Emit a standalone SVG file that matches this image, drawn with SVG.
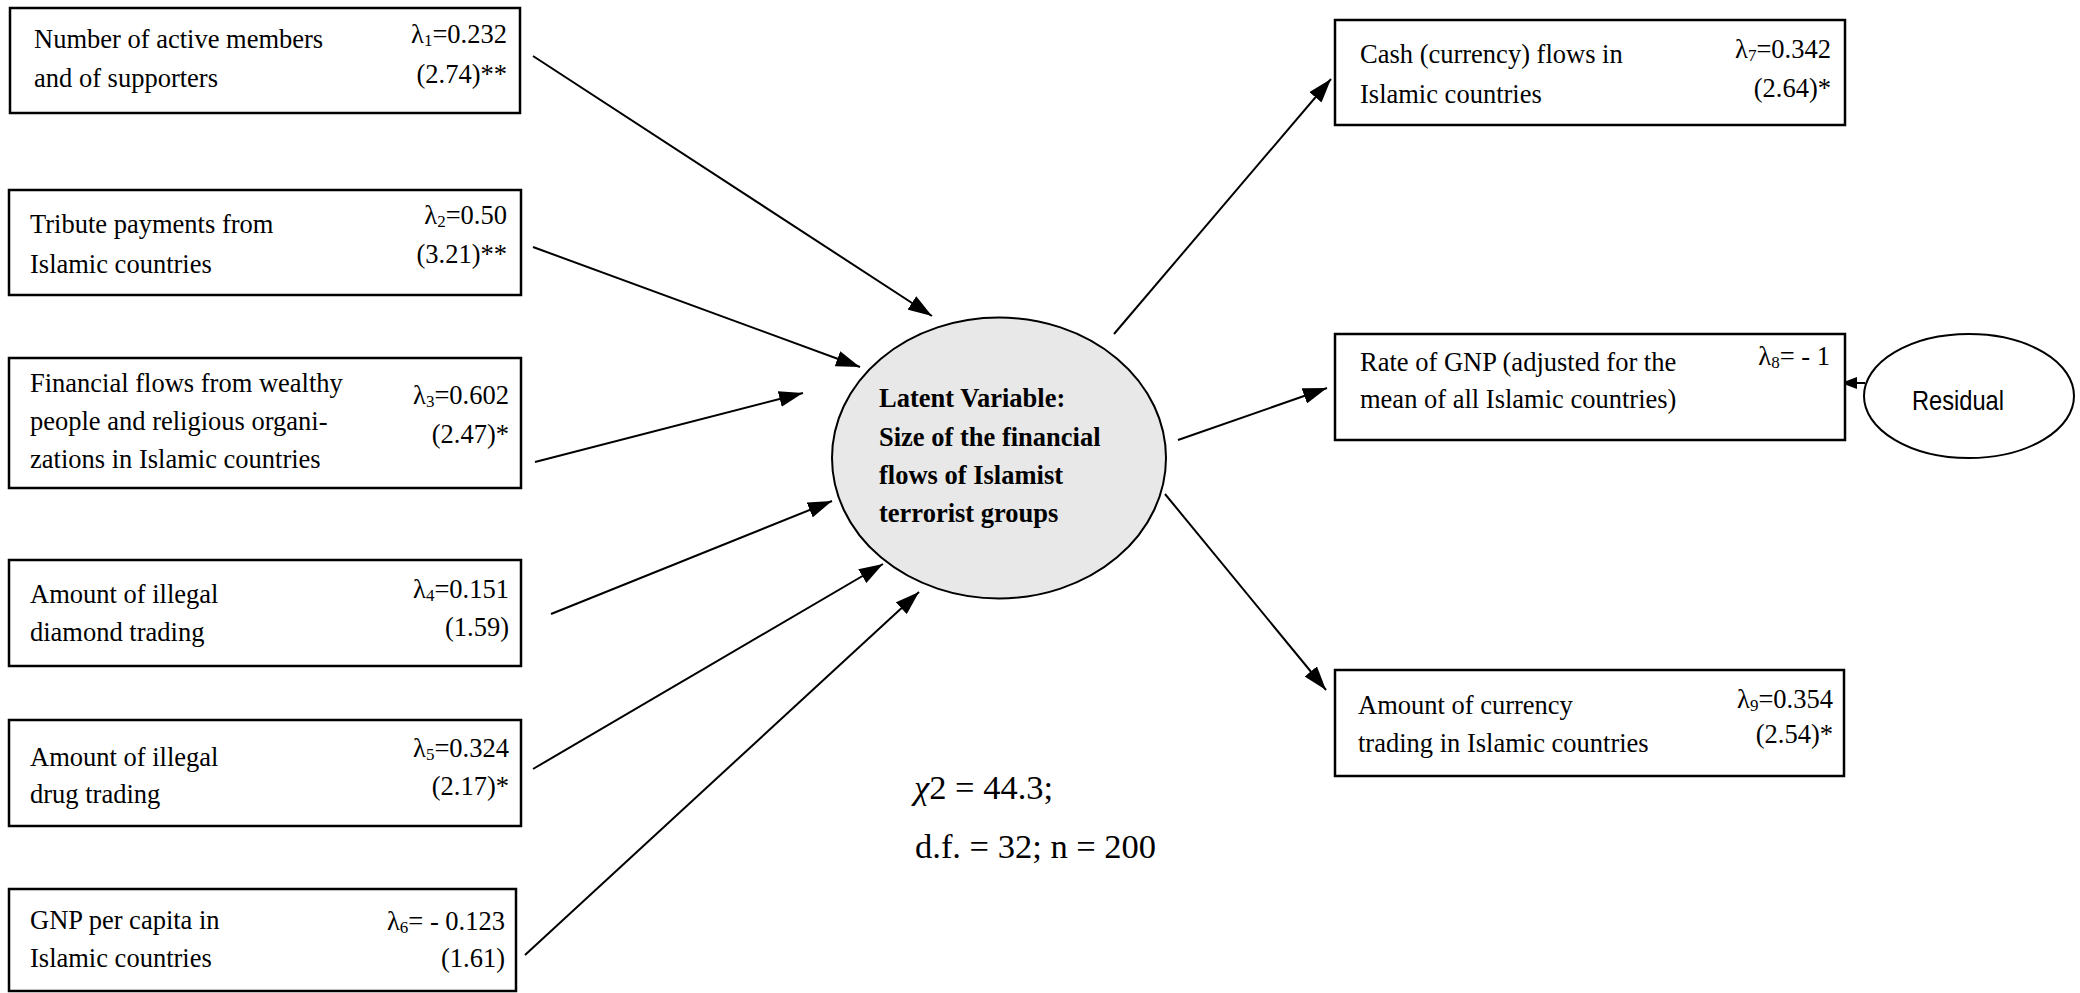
<svg xmlns="http://www.w3.org/2000/svg" width="2080" height="993" viewBox="0 0 2080 993">
<defs>
<style>
.box{fill:#ffffff;stroke:#000000;stroke-width:2.5}
.t{font-family:"Liberation Serif","Times New Roman",serif;font-size:26.5px;fill:#000000}
.r{text-anchor:end}
.b{font-weight:bold}
.sub{font-size:17px}
.conn{stroke:#000000;stroke-width:2;fill:none;marker-end:url(#ah)}
.stat{font-family:"Liberation Serif","Times New Roman",serif;font-size:34.5px;fill:#000000}
</style>
<marker id="ah" markerUnits="userSpaceOnUse" viewBox="0 0 24 16" refX="24" refY="8" markerWidth="24" markerHeight="16" orient="auto">
<path d="M0,0 L24,8 L0,16 z" fill="#000000"/>
</marker>
<marker id="ahs" markerUnits="userSpaceOnUse" viewBox="0 0 16 12" refX="16" refY="6" markerWidth="16" markerHeight="12" orient="auto">
<path d="M0,0 L16,6 L0,12 z" fill="#000000"/>
</marker>
</defs>
<rect width="2080" height="993" fill="#ffffff"/>

<g id="connectors">
<line class="conn" x1="533" y1="56" x2="932" y2="316"/>
<line class="conn" x1="533" y1="247" x2="860" y2="367"/>
<line class="conn" x1="535" y1="462" x2="803" y2="393"/>
<line class="conn" x1="551" y1="614" x2="832" y2="501"/>
<line class="conn" x1="533" y1="769" x2="883" y2="564"/>
<line class="conn" x1="525" y1="955" x2="919" y2="592"/>
<line class="conn" x1="1114" y1="334" x2="1331" y2="79"/>
<line class="conn" x1="1178" y1="440" x2="1327" y2="388"/>
<line class="conn" x1="1165" y1="494" x2="1326" y2="690"/>
<line x1="1865" y1="383" x2="1841" y2="383" stroke="#000000" stroke-width="2" marker-end="url(#ahs)"/>
</g>

<g id="n1">
<rect class="box" x="10" y="8" width="510" height="105"/>
<text class="t" x="34" y="48">Number of active members</text>
<text class="t" x="34" y="87">and of supporters</text>
<text class="t r" x="507" y="43">λ<tspan class="sub" dy="3">1</tspan><tspan dy="-3">=0.232</tspan></text>
<text class="t r" x="507" y="83">(2.74)**</text>
</g>

<g id="n2">
<rect class="box" x="9" y="190" width="512" height="105"/>
<text class="t" x="30" y="233">Tribute payments from</text>
<text class="t" x="30" y="273">Islamic countries</text>
<text class="t r" x="507" y="224">λ<tspan class="sub" dy="3">2</tspan><tspan dy="-3">=0.50</tspan></text>
<text class="t r" x="507" y="263">(3.21)**</text>
</g>

<g id="n3">
<rect class="box" x="9" y="358" width="512" height="130"/>
<text class="t" x="30" y="392">Financial flows from wealthy</text>
<text class="t" x="30" y="430">people and religious organi-</text>
<text class="t" x="30" y="468">zations in Islamic countries</text>
<text class="t r" x="509" y="404">λ<tspan class="sub" dy="3">3</tspan><tspan dy="-3">=0.602</tspan></text>
<text class="t r" x="509" y="443">(2.47)*</text>
</g>

<g id="n4">
<rect class="box" x="9" y="560" width="512" height="106"/>
<text class="t" x="30" y="603">Amount of illegal</text>
<text class="t" x="30" y="641">diamond trading</text>
<text class="t r" x="509" y="598">λ<tspan class="sub" dy="3">4</tspan><tspan dy="-3">=0.151</tspan></text>
<text class="t r" x="509" y="636">(1.59)</text>
</g>

<g id="n5">
<rect class="box" x="9" y="720" width="512" height="106"/>
<text class="t" x="30" y="766">Amount of illegal</text>
<text class="t" x="30" y="803">drug trading</text>
<text class="t r" x="509" y="757">λ<tspan class="sub" dy="3">5</tspan><tspan dy="-3">=0.324</tspan></text>
<text class="t r" x="509" y="795">(2.17)*</text>
</g>

<g id="n6">
<rect class="box" x="9" y="889" width="507" height="102"/>
<text class="t" x="30" y="929">GNP per capita in</text>
<text class="t" x="30" y="967">Islamic countries</text>
<text class="t r" x="505" y="930">λ<tspan class="sub" dy="3">6</tspan><tspan dy="-3">= - 0.123</tspan></text>
<text class="t r" x="505" y="967">(1.61)</text>
</g>

<g id="latent">
<ellipse cx="999" cy="458" rx="167" ry="140.5" fill="#e8e8e8" stroke="#000000" stroke-width="2"/>
<text class="t b" x="879" y="407">Latent Variable:</text>
<text class="t b" x="879" y="446">Size of the financial</text>
<text class="t b" x="879" y="484">flows of Islamist</text>
<text class="t b" x="879" y="522">terrorist groups</text>
</g>

<g id="n7">
<rect class="box" x="1335" y="20" width="510" height="105"/>
<text class="t" x="1360" y="63">Cash (currency) flows in</text>
<text class="t" x="1360" y="103">Islamic countries</text>
<text class="t r" x="1831" y="58">λ<tspan class="sub" dy="3">7</tspan><tspan dy="-3">=0.342</tspan></text>
<text class="t r" x="1831" y="97">(2.64)*</text>
</g>

<g id="n8">
<rect class="box" x="1335" y="334" width="510" height="106"/>
<text class="t" x="1360" y="371">Rate of GNP (adjusted for the</text>
<text class="t" x="1360" y="408">mean of all Islamic countries)</text>
<text class="t r" x="1830" y="365">λ<tspan class="sub" dy="3">8</tspan><tspan dy="-3">= - 1</tspan></text>
</g>

<g id="residual">
<ellipse cx="1969" cy="396" rx="105" ry="62" fill="#ffffff" stroke="#000000" stroke-width="2"/>
<text x="1912" y="410" textLength="92" lengthAdjust="spacingAndGlyphs" font-family="Liberation Sans, Arial, sans-serif" font-size="28" fill="#000000">Residual</text>
</g>

<g id="n9">
<rect class="box" x="1335" y="670" width="509" height="106"/>
<text class="t" x="1358" y="714">Amount of currency</text>
<text class="t" x="1358" y="752">trading in Islamic countries</text>
<text class="t r" x="1833" y="708">λ<tspan class="sub" dy="3">9</tspan><tspan dy="-3">=0.354</tspan></text>
<text class="t r" x="1833" y="743">(2.54)*</text>
</g>

<g id="stats">
<text class="stat" x="914" y="799"><tspan font-style="italic">χ</tspan>2 = 44.3;</text>
<text class="stat" x="915" y="858">d.f. = 32; n = 200</text>
</g>
</svg>
